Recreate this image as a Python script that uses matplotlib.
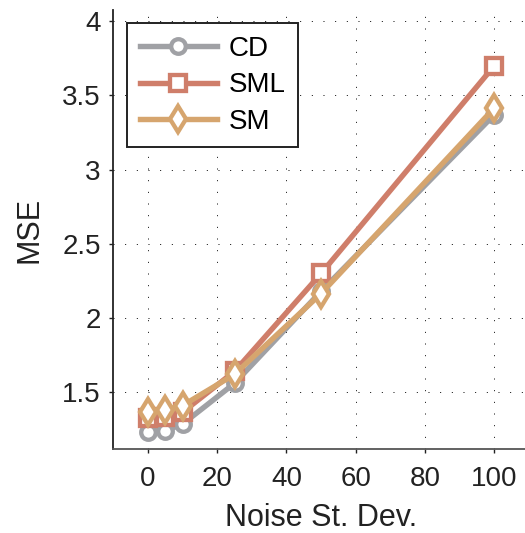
import matplotlib
matplotlib.use("Agg")
import matplotlib.pyplot as plt

# Data
noise_sd = [0, 5, 10, 25, 50, 100]
mse_cd = [1.232, 1.240, 1.285, 1.560, 2.180, 3.370]
mse_sml = [1.325, 1.335, 1.365, 1.640, 2.300, 3.700]
mse_sm = [1.367, 1.380, 1.410, 1.620, 2.165, 3.415]

x_ticks = [0, 20, 40, 60, 80, 100]
y_ticks = [1.5, 2, 2.5, 3, 3.5, 4]
y_tick_labels = ["1.5", "2", "2.5", "3", "3.5", "4"]

plt.rcParams['font.family'] = ['Liberation Sans', 'DejaVu Sans']

fig = plt.figure(figsize=(5.25, 5.33), dpi=100)
ax = fig.add_axes([0.2158, 0.157, 0.7916, 0.824])

# Style for each series
ax.plot(noise_sd, mse_cd, color='#a0a1a5', linewidth=3.9, marker='o',
        markersize=10.5, markerfacecolor='white', markeredgewidth=3.1, label='CD')
ax.plot(noise_sd, mse_sml, color='#cf7e6a', linewidth=3.9, marker='s',
        markersize=11, markerfacecolor='white', markeredgewidth=3.1, label='SML')
ax.plot(noise_sd, mse_sm, color='#d6a56e', linewidth=3.9, marker='d',
        markersize=13.5, markerfacecolor='white', markeredgewidth=3.1, label='SM')

ax.set_xlim(-10, 110)
ax.set_ylim(1.115, 4.075)
ax.set_xticks(x_ticks)
ax.set_yticks(y_ticks)
ax.set_yticklabels(y_tick_labels)

ax.grid(True, color='black', linewidth=0.7, linestyle=(0, (1, 11)))
ax.set_axisbelow(True)

for side in ['top', 'right']:
    ax.spines[side].set_visible(False)
ax.spines['left'].set_linewidth(1.3)
ax.spines['left'].set_color('#222222')
ax.spines['bottom'].set_linewidth(1.3)
ax.spines['bottom'].set_color('#555555')

ax.tick_params(axis='both', direction='out', length=3, width=1, labelsize=20,
               colors='#222222')
ax.tick_params(axis='y', pad=6)
ax.tick_params(axis='x', pad=9)

ax.set_xlabel('Noise St. Dev.', fontsize=22, labelpad=8, color='#222222')
ax.set_ylabel('MSE', fontsize=22, labelpad=13, color='#222222')

leg = ax.legend(loc='upper left', bbox_to_anchor=(0.033, 0.970), borderaxespad=0,
                fontsize=20, numpoints=1, handlelength=2.8, handletextpad=0.4,
                labelspacing=0.38, borderpad=0.45, fancybox=False, framealpha=1,
                edgecolor='#222222')
leg.get_frame().set_linewidth(1.4)

fig.savefig('out.png', dpi=100)
